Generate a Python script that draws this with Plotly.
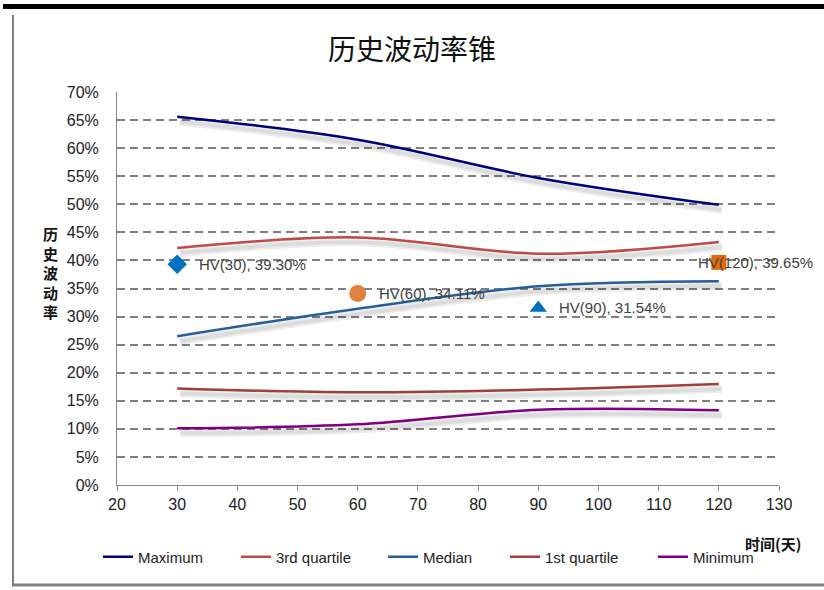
import plotly.graph_objects as go

days = [30, 60, 90, 120]
series_names = ["Maximum", "3rd quartile", "Median", "1st quartile", "Minimum"]
maximum = [0.656, 0.615, 0.547, 0.499]
q3 = [0.422, 0.441, 0.412, 0.433]
median = [0.265, 0.314, 0.354, 0.363]
q1 = [0.172, 0.165, 0.170, 0.180]
minimum = [0.101, 0.108, 0.134, 0.133]
series_colors = ["#00007F", "#BE4B48", "#255E99", "#A0403D", "#7F007F"]

hv_days = [30, 60, 90, 120]
hv_values = [0.3930, 0.3411, 0.3154, 0.3965]
hv_labels = ["HV(30), 39.30%", "HV(60), 34.11%", "HV(90), 31.54%", "HV(120), 39.65%"]
hv_symbols = ["diamond", "circle", "triangle-up", "square"]
hv_colors = ["#0070C0", "#E0823D", "#0070C0", "#E36C09"]
hv_sizes = [15, 17, 15, 15]
hv_shift = [20, 19, 19, -23]

x_ticks = list(range(20, 131, 10))
y_ticks = [i * 0.05 for i in range(15)]

# legend entry left positions (pixels)
legend_px = [98, 236, 383, 505, 653]

W, H = 824, 590
L, T, PW, PH = 117, 92, 662, 393


def px2x(px):
    return (px - L) / PW


def py2y(py):
    return (T + PH - py) / PH


fig = go.Figure()
all_series = [maximum, q3, median, q1, minimum]

# soft shadows: same data drawn on slightly offset overlay axes
for vals in all_series:
    fig.add_trace(go.Scatter(x=days, y=vals, mode="lines", xaxis="x2", yaxis="y2",
                             line=dict(color="rgba(0,0,0,0.07)", width=8, shape="spline", smoothing=1),
                             showlegend=False, hoverinfo="skip"))
    fig.add_trace(go.Scatter(x=days, y=vals, mode="lines", xaxis="x2", yaxis="y2",
                             line=dict(color="rgba(0,0,0,0.07)", width=4, shape="spline", smoothing=1),
                             showlegend=False, hoverinfo="skip"))

legend_keys = ["legend", "legend2", "legend3", "legend4", "legend5"]
for name, vals, col, lk in zip(series_names, all_series, series_colors, legend_keys):
    fig.add_trace(go.Scatter(x=days, y=vals, mode="lines", name=name, legend=lk,
                             line=dict(color=col, width=2.5, shape="spline", smoothing=1)))

for d, v, s, c, sz in zip(hv_days, hv_values, hv_symbols, hv_colors, hv_sizes):
    fig.add_trace(go.Scatter(x=[d], y=[v], mode="markers", showlegend=False,
                             marker=dict(symbol=s, color=c, size=sz, line=dict(width=0))))

for d, v, t, sh in zip(hv_days, hv_values, hv_labels, hv_shift):
    fig.add_annotation(x=d, y=v, text=t, showarrow=False, xanchor="left", xshift=sh,
                       font=dict(family="Arial, Liberation Sans", size=15, color="#404040"))

px_y = 0.7 / PH
px_x = 110.0 / PW

legend_common = dict(orientation="h", xanchor="left", y=py2y(557), yanchor="middle",
                     font=dict(family="Arial, Liberation Sans", size=15, color="#222"),
                     itemwidth=30, bgcolor="rgba(0,0,0,0)", borderwidth=0)
layout_legends = {}
for lk, lx in zip(legend_keys, legend_px):
    layout_legends[lk] = dict(legend_common, x=px2x(lx))

fig.update_layout(
    width=W, height=H,
    margin=dict(l=L, r=W - L - PW, t=T, b=H - T - PH),
    paper_bgcolor="white", plot_bgcolor="white",
    title=dict(text="历史波动率锥", x=0.5, xanchor="center", y=1 - 50 / H, yanchor="middle",
               font=dict(family="Noto Sans CJK SC", size=28, color="#111")),
    xaxis=dict(range=[20, 130], tickvals=x_ticks, ticks="outside", ticklen=5, tickcolor="#868686",
               showline=True, linecolor="#868686", linewidth=1, showgrid=False, zeroline=False,
               tickfont=dict(family="Arial, Liberation Sans", size=16, color="#222")),
    yaxis=dict(range=[0, 0.7], tickvals=y_ticks, tickformat=".0%", ticks="", ticklabelstandoff=14,
               showline=True, linecolor="#868686", linewidth=1,
               showgrid=True, gridcolor="#808080", gridwidth=1.6, griddash="8px,5px", zeroline=False,
               tickfont=dict(family="Arial, Liberation Sans", size=16, color="#222")),
    xaxis2=dict(range=[20 - 3 * px_x, 130 - 3 * px_x], overlaying="x", visible=False),
    yaxis2=dict(range=[0 + 5 * px_y, 0.7 + 5 * px_y], overlaying="y", visible=False),
    showlegend=True,
    **layout_legends,
)

fig.add_annotation(x=px2x(50), y=py2y(272), xref="paper", yref="paper", showarrow=False,
                   text="<b>历<br>史<br>波<br>动<br>率</b>", align="center", xanchor="center",
                   yanchor="middle",
                   font=dict(family="Noto Sans CJK SC", size=15, color="#111"))
fig.add_annotation(x=px2x(773), y=py2y(543), xref="paper", yref="paper", showarrow=False,
                   text="<b>时间(天)</b>", xanchor="center", yanchor="middle",
                   font=dict(family="Noto Sans CJK SC", size=15, color="#111"))

fig.add_shape(type="line", xref="paper", yref="paper", x0=px2x(3), x1=px2x(830), y0=py2y(6.5), y1=py2y(6.5),
              line=dict(color="black", width=5))
fig.add_shape(type="line", xref="paper", yref="paper", x0=px2x(13), x1=px2x(13), y0=py2y(15), y1=py2y(585),
              line=dict(color="#808080", width=2))
fig.add_shape(type="line", xref="paper", yref="paper", x0=px2x(12), x1=px2x(830), y0=py2y(585), y1=py2y(585),
              line=dict(color="#808080", width=3))

fig.write_html("out.html", config={"displayModeBar": False},
               post_script="document.body.style.margin='0';document.body.style.padding='0';")
